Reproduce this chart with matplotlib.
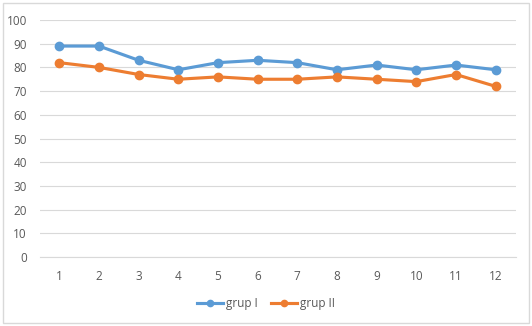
import numpy as np
import matplotlib
matplotlib.use('Agg')
import matplotlib.pyplot as plt
from matplotlib.patches import Rectangle

plt.rcParams['font.family'] = ['Open Sans', 'DejaVu Sans']

# 数据
categories = [1, 2, 3, 4, 5, 6, 7, 8, 9, 10, 11, 12]
grup_1 = [89, 89, 83, 79, 82, 83, 82, 79, 81, 79, 81, 79]
grup_2 = [82, 80, 77, 75, 76, 75, 75, 76, 75, 74, 77, 72]
y_ticks = [0, 10, 20, 30, 40, 50, 60, 70, 80, 90, 100]

W, H = 532, 326
fig = plt.figure(figsize=(W / 100, H / 100), dpi=100)
ax = fig.add_axes([39.5 / W, (H - 257) / H, (515.5 - 39.5) / W, (257 - 20) / H])

x = np.arange(1, len(categories) + 1)
ax.plot(x, grup_1, color='#5B9BD5', lw=2.25, marker='o', ms=6, label='grup I')
ax.plot(x, grup_2, color='#ED7D31', lw=2.25, marker='o', ms=6, label='grup II')

ax.set_xlim(0.5, len(categories) + 0.5)
ax.set_ylim(0, 100)
ax.set_xticks(x)
ax.set_xticklabels([str(c) for c in categories])
ax.set_yticks(y_ticks)

ax.yaxis.grid(True, color='#D9D9D9', lw=0.8)
ax.set_axisbelow(True)
for s in ['top', 'right', 'left']:
    ax.spines[s].set_visible(False)
ax.spines['bottom'].set_color('#D9D9D9')
ax.tick_params(length=0, colors='#595959', labelsize=8.5)
ax.tick_params(axis='x', pad=9)
ax.tick_params(axis='y', pad=9)

leg = fig.legend(loc='center', bbox_to_anchor=(0.5, (H - 304) / H), ncol=2,
                 frameon=False, fontsize=8.5, handlelength=2.2, columnspacing=1.2,
                 handletextpad=0.2, markerscale=0.75)
for t in leg.get_texts():
    t.set_color('#595959')

# 外框
fig.patches.append(Rectangle((3 / W, 3 / H), (W - 6) / W, (H - 6) / H,
                             transform=fig.transFigure, fill=False,
                             edgecolor='#D9D9D9', lw=1))

plt.savefig('out.png', dpi=100)
